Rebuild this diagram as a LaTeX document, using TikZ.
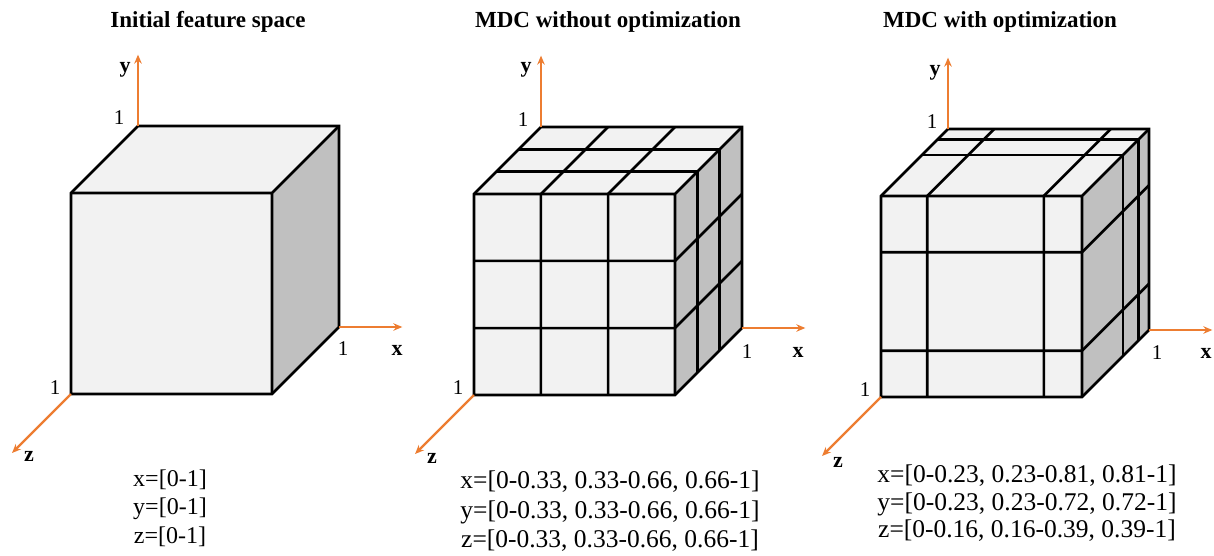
\documentclass[tikz,border=0pt]{standalone}
\usepackage{fontspec}
\setmainfont{Liberation Serif}
\usetikzlibrary{arrows.meta}
\definecolor{axisorange}{HTML}{ED7D31}
\definecolor{facelight}{HTML}{F2F2F2}
\definecolor{faceside}{HTML}{C0C0C0}
\tikzset{
  cubeedge/.style={line width=2.6pt},
  axisline/.style={draw=axisorange,line width=2.4pt,-{Stealth[length=9pt,width=7.5pt]}},
  titletext/.style={font=\fontsize{23}{27}\selectfont\bfseries,anchor=base,inner sep=0pt},
  axislabel/.style={font=\fontsize{22}{24}\selectfont\bfseries,inner sep=0pt},
  ticklabel/.style={font=\fontsize{21}{24}\selectfont,inner sep=0pt},
  rangetext/.style={font=\fontsize{24}{28}\selectfont,anchor=base,inner sep=0pt},
  widerange/.style={rangetext,font=\fontsize{25.5}{29}\selectfont},
  cubeaxes/.style={x={(201pt,0pt)},y={(0pt,201pt)},z={(-67pt,-67pt)}}
}
\newcommand{\mycubebody}[3]{%
  \fill[facelight] (0,0,1) -- (1,0,1) -- (1,1,1) -- (0,1,1) -- cycle;
  \fill[facelight] (0,1,1) -- (1,1,1) -- (1,1,0) -- (0,1,0) -- cycle;
  \fill[faceside] (1,0,1) -- (1,0,0) -- (1,1,0) -- (1,1,1) -- cycle;
  \foreach \a in {#1} \draw[cubeedge] (\a,0,1) -- (\a,1,1) -- (\a,1,0);
  \foreach \b in {#2} \draw[cubeedge] (0,\b,1) -- (1,\b,1) -- (1,\b,0);
  \foreach \c in {#3} \draw[cubeedge] (0,1,\c) -- (1,1,\c) -- (1,0,\c);
  \draw[cubeedge] (0,0,1) -- (1,0,1) -- (1,0,0) -- (1,1,0) -- (0,1,0) -- (0,1,1) -- cycle;
  \draw[cubeedge] (0,1,1) -- (1,1,1) -- (1,0,1) (1,1,1) -- (1,1,0);
  \draw[axisline] (0,1,0) -- (0,1.355,0);
  \draw[axisline] (1,0,0) -- (1.315,0,0);
  \draw[axisline] (0,0,1) -- (0,0,1.88);
}
\begin{document}
\begin{tikzpicture}[x=1pt,y=-1pt]
\useasboundingbox (0,0) rectangle (1214,555);
\fill[white] (0,0) rectangle (1214,555);

% ---------- cube 1 ----------
\begin{scope}[xshift=138pt,yshift=-327pt,cubeaxes]
  \mycubebody{}{}{}
\end{scope}
\node[titletext] (t1) at (208,27) {Initial feature space};
\node[axislabel] (y1) at (125,70) {y};
\node[axislabel] (x1) at (397,350) {x};
\node[axislabel] (z1) at (29,456) {z};
\node[ticklabel] (oy1) at (119,118) {1};
\node[ticklabel] (ox1) at (343,349) {1};
\node[ticklabel] (oz1) at (55,388) {1};
\node[rangetext] (rx1) at (170,486) {x=[0-1]};
\node[rangetext] (ry1) at (170,514) {y=[0-1]};
\node[rangetext] (rz1) at (170,543) {z=[0-1]};

% ---------- cube 2 ----------
\begin{scope}[xshift=541pt,yshift=-328pt,cubeaxes]
  \mycubebody{0.333,0.667}{0.333,0.667}{0.333,0.667}
\end{scope}
\node[titletext] (t2) at (608,27) {MDC without optimization};
\node[axislabel] (y2) at (526,70) {y};
\node[axislabel] (x2) at (798,352) {x};
\node[axislabel] (z2) at (432,458) {z};
\node[ticklabel] (oy2) at (523,120) {1};
\node[ticklabel] (ox2) at (747,352) {1};
\node[ticklabel] (oz2) at (458,388) {1};
\node[widerange] (rx2) at (610,488) {x=[0-0.33, 0.33-0.66, 0.66-1]};
\node[widerange] (ry2) at (610,518) {y=[0-0.33, 0.33-0.66, 0.66-1]};
\node[widerange] (rz2) at (610,547) {z=[0-0.33, 0.33-0.66, 0.66-1]};

% ---------- cube 3 ----------
\begin{scope}[xshift=948pt,yshift=-330pt,cubeaxes]
  \mycubebody{0.23,0.81}{0.23,0.72}{0.16,0.39}
\end{scope}
\node[titletext] (t3) at (1000,27) {MDC with optimization};
\node[axislabel] (y3) at (935,73) {y};
\node[axislabel] (x3) at (1206,353) {x};
\node[axislabel] (z3) at (838,462) {z};
\node[ticklabel] (oy3) at (932,122) {1};
\node[ticklabel] (ox3) at (1157,353) {1};
\node[ticklabel] (oz3) at (865,390) {1};
\node[widerange] (rx3) at (1027,482) {x=[0-0.23, 0.23-0.81, 0.81-1]};
\node[widerange] (ry3) at (1027,510) {y=[0-0.23, 0.23-0.72, 0.72-1]};
\node[widerange] (rz3) at (1027,537) {z=[0-0.16, 0.16-0.39, 0.39-1]};
\end{tikzpicture}
\end{document}
